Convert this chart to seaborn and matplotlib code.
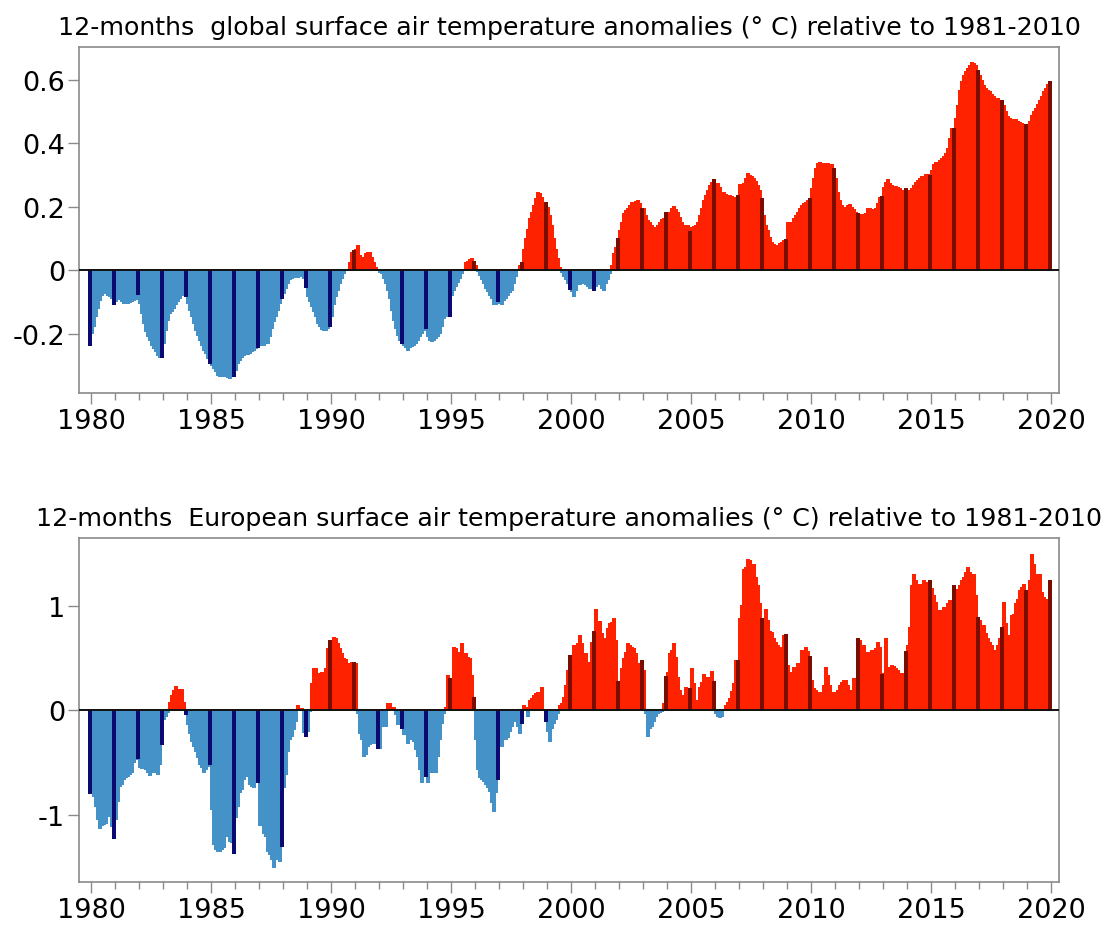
import numpy as np
import pandas as pd
import matplotlib
matplotlib.use("Agg")
import matplotlib.pyplot as plt
from matplotlib.ticker import MultipleLocator, FixedLocator
import seaborn as sns

# ---------------- data (12-month running means, one value per month, 1980.0 .. 2020.0) -------------
start_year = 1980

global_anom = [
    -0.236, -0.197, -0.176, -0.144, -0.118, -0.092, -0.076, -0.068, -0.070, -0.076, -0.081, -0.086,  # 1980
    -0.107, -0.097, -0.091, -0.090, -0.097, -0.102, -0.102, -0.104, -0.100, -0.097, -0.094, -0.091,  # 1981
    -0.074, -0.102, -0.134, -0.165, -0.192, -0.207, -0.220, -0.234, -0.244, -0.255, -0.265, -0.273,  # 1982
    -0.273, -0.228, -0.186, -0.155, -0.134, -0.128, -0.118, -0.107, -0.097, -0.086, -0.076, -0.065,  # 1983
    -0.079, -0.102, -0.123, -0.144, -0.165, -0.186, -0.202, -0.218, -0.234, -0.249, -0.260, -0.276,  # 1984
    -0.292, -0.297, -0.307, -0.318, -0.328, -0.332, -0.332, -0.332, -0.328, -0.334, -0.339, -0.332,  # 1985
    -0.332, -0.313, -0.292, -0.281, -0.271, -0.265, -0.262, -0.262, -0.260, -0.255, -0.249, -0.244,  # 1986
    -0.242, -0.234, -0.234, -0.234, -0.228, -0.228, -0.207, -0.181, -0.160, -0.144, -0.123, -0.104,  # 1987
    -0.086, -0.071, -0.055, -0.039, -0.028, -0.023, -0.021, -0.021, -0.020, -0.018, -0.018, -0.023,  # 1988
    -0.053, -0.081, -0.097, -0.113, -0.128, -0.144, -0.165, -0.176, -0.184, -0.189, -0.186, -0.181,  # 1989
    -0.174, -0.144, -0.107, -0.081, -0.060, -0.039, -0.023, -0.009, 0.000, 0.003, 0.024, 0.056,      # 1990
    0.061, 0.066, 0.077, 0.047, 0.040, 0.029, 0.051, 0.054, 0.056, 0.040, 0.024, 0.008,              # 1991
    0.000, -0.005, -0.009, -0.023, -0.039, -0.060, -0.086, -0.123, -0.155, -0.181, -0.202, -0.218,   # 1992
    -0.228, -0.234, -0.242, -0.249, -0.242, -0.239, -0.234, -0.228, -0.218, -0.207, -0.197, -0.189,  # 1993
    -0.181, -0.207, -0.218, -0.221, -0.218, -0.213, -0.207, -0.197, -0.176, -0.149, -0.144, -0.139,  # 1994
    -0.144, -0.076, -0.060, -0.049, -0.037, -0.023, -0.008, 0.000, 0.022, 0.027, 0.033, 0.035,       # 1995
    0.027, 0.014, -0.002, -0.013, -0.026, -0.039, -0.055, -0.065, -0.076, -0.086, -0.107, -0.107,    # 1996
    -0.097, -0.102, -0.107, -0.092, -0.086, -0.076, -0.068, -0.060, -0.039, -0.018, 0.000, 0.014,    # 1997
    0.024, 0.066, 0.098, 0.129, 0.161, 0.182, 0.203, 0.224, 0.243, 0.240, 0.229, 0.214,              # 1998
    0.211, 0.198, 0.172, 0.140, 0.098, 0.066, 0.035, 0.008, -0.005, -0.018, -0.028, -0.039,          # 1999
    -0.058, -0.065, -0.079, -0.060, -0.044, -0.044, -0.039, -0.039, -0.044, -0.049, -0.055, -0.049,  # 2000
    -0.062, -0.049, -0.044, -0.039, -0.055, -0.060, -0.039, -0.028, -0.007, 0.014, 0.051, 0.072,     # 2001
    0.100, 0.124, 0.151, 0.177, 0.187, 0.195, 0.203, 0.211, 0.212, 0.216, 0.219, 0.208,              # 2002
    0.195, 0.193, 0.172, 0.156, 0.151, 0.140, 0.129, 0.135, 0.140, 0.151, 0.158, 0.161,              # 2003
    0.182, 0.172, 0.182, 0.193, 0.201, 0.191, 0.182, 0.166, 0.151, 0.140, 0.135, 0.140,              # 2004
    0.121, 0.135, 0.137, 0.140, 0.151, 0.172, 0.193, 0.219, 0.235, 0.251, 0.266, 0.277,              # 2005
    0.284, 0.272, 0.272, 0.261, 0.245, 0.243, 0.239, 0.235, 0.235, 0.233, 0.229, 0.227,              # 2006
    0.235, 0.268, 0.268, 0.272, 0.289, 0.303, 0.298, 0.295, 0.287, 0.279, 0.266, 0.251,              # 2007
    0.226, 0.172, 0.140, 0.124, 0.103, 0.087, 0.079, 0.077, 0.077, 0.082, 0.087, 0.092,              # 2008
    0.096, 0.151, 0.145, 0.151, 0.161, 0.172, 0.182, 0.193, 0.203, 0.208, 0.214, 0.219,              # 2009
    0.224, 0.256, 0.287, 0.319, 0.335, 0.338, 0.335, 0.335, 0.335, 0.335, 0.333, 0.332,              # 2010
    0.319, 0.287, 0.245, 0.219, 0.203, 0.195, 0.198, 0.203, 0.205, 0.198, 0.191, 0.182,              # 2011
    0.179, 0.175, 0.174, 0.172, 0.177, 0.193, 0.195, 0.188, 0.189, 0.195, 0.208, 0.227,              # 2012
    0.232, 0.261, 0.277, 0.285, 0.272, 0.266, 0.264, 0.263, 0.261, 0.256, 0.251, 0.247,              # 2013
    0.258, 0.251, 0.248, 0.256, 0.266, 0.277, 0.282, 0.287, 0.293, 0.296, 0.300, 0.300,              # 2014
    0.298, 0.314, 0.332, 0.338, 0.340, 0.345, 0.351, 0.358, 0.366, 0.382, 0.414, 0.445,              # 2015
    0.447, 0.477, 0.519, 0.566, 0.593, 0.614, 0.624, 0.635, 0.645, 0.653, 0.651, 0.645,              # 2016
    0.629, 0.614, 0.598, 0.582, 0.572, 0.566, 0.561, 0.553, 0.545, 0.540, 0.540, 0.535,              # 2017
    0.535, 0.519, 0.498, 0.482, 0.477, 0.475, 0.474, 0.474, 0.468, 0.464, 0.461, 0.459,              # 2018
    0.457, 0.459, 0.468, 0.487, 0.498, 0.508, 0.521, 0.535, 0.548, 0.561, 0.572, 0.584,              # 2019
    0.593,                                                                                          # 2020
]

europe_anom = [
    -0.790, -0.746, -0.819, -0.914, -1.041, -1.121, -1.098, -1.089, -1.079, -1.009, -1.009, -1.105,  # 1980
    -1.222, -1.038, -0.863, -0.721, -0.705, -0.657, -0.641, -0.625, -0.610, -0.594, -0.498, -0.467,  # 1981
    -0.457, -0.546, -0.556, -0.546, -0.562, -0.594, -0.619, -0.594, -0.594, -0.562, -0.610, -0.514,  # 1982
    -0.324, -0.086, -0.054, -0.020, 0.073, 0.137, 0.184, 0.222, 0.194, 0.184, 0.194, 0.073,          # 1983
    -0.038, -0.133, -0.213, -0.292, -0.340, -0.387, -0.451, -0.514, -0.546, -0.594, -0.562, -0.530,  # 1984
    -0.514, -0.943, -1.276, -1.324, -1.340, -1.340, -1.324, -1.308, -1.197, -1.197, -1.244, -1.260,  # 1985
    -1.362, -1.022, -0.914, -0.784, -0.752, -0.657, -0.619, -0.625, -0.705, -0.721, -0.737, -0.625,  # 1986
    -0.683, -1.095, -0.851, -1.168, -1.200, -1.343, -1.375, -1.422, -1.498, -1.422, -1.390, -1.438,  # 1987
    -1.292, -0.737, -0.610, -0.387, -0.276, -0.244, -0.181, -0.102, 0.041, 0.003, 0.010, -0.210,     # 1988
    -0.244, -0.197, -0.006, 0.248, 0.390, 0.390, 0.327, 0.343, 0.359, 0.359, 0.390, 0.581,           # 1989
    0.660, 0.556, 0.692, 0.676, 0.629, 0.581, 0.533, 0.486, 0.479, 0.390, 0.438, 0.454,              # 1990
    0.448, 0.438, -0.022, -0.213, -0.276, -0.435, -0.419, -0.340, -0.324, -0.292, -0.308, -0.292,    # 1991
    -0.356, -0.356, -0.149, -0.133, -0.149, 0.057, 0.063, 0.010, 0.025, -0.038, -0.133, -0.102,      # 1992
    -0.165, -0.229, -0.181, -0.308, -0.260, -0.276, -0.292, -0.371, -0.435, -0.562, -0.689, -0.625,  # 1993
    -0.625, -0.689, -0.562, -0.594, -0.514, -0.594, -0.435, -0.276, -0.117, -0.022, 0.025, 0.327,    # 1994
    0.295, 0.210, 0.597, 0.581, 0.533, 0.549, 0.629, 0.533, 0.533, 0.502, 0.486, 0.327,              # 1995
    0.121, -0.276, -0.562, -0.641, -0.657, -0.673, -0.705, -0.737, -0.768, -0.879, -0.959, -0.784,   # 1996
    -0.657, -0.340, -0.340, -0.229, -0.276, -0.260, -0.197, -0.149, -0.102, -0.086, -0.149, -0.213,  # 1997
    -0.117, 0.041, 0.025, -0.054, 0.089, 0.105, 0.137, 0.152, 0.162, 0.105, 0.216, 0.000,            # 1998
    -0.102, -0.197, -0.292, -0.165, -0.117, -0.086, -0.022, 0.041, 0.057, 0.121, 0.232, 0.375,       # 1999
    0.517, 0.438, 0.613, 0.597, 0.629, 0.708, 0.629, 0.533, 0.533, 0.406, 0.454, 0.644,              # 2000
    0.746, 0.956, 0.803, 0.841, 0.730, 0.676, 0.644, 0.778, 0.819, 0.835, 0.873, 0.660,              # 2001
    0.270, 0.130, 0.390, 0.486, 0.549, 0.629, 0.613, 0.597, 0.581, 0.533, 0.359, 0.438,              # 2002
    0.470, 0.375, -0.022, -0.244, -0.165, -0.149, -0.102, -0.054, -0.022, -0.016, -0.006, 0.057,     # 2003
    0.321, 0.359, 0.533, 0.565, 0.629, 0.502, 0.311, 0.184, 0.105, 0.137, 0.216, 0.200,              # 2004
    0.206, 0.397, 0.248, 0.073, 0.089, 0.216, 0.263, 0.333, 0.311, 0.311, 0.295, 0.365,              # 2005
    0.270, -0.022, -0.054, -0.060, -0.054, 0.000, 0.041, 0.073, 0.105, 0.175, 0.248, 0.470,          # 2006
    0.470, 0.867, 0.994, 1.343, 1.359, 1.432, 1.422, 1.375, 1.390, 1.263, 1.184, 1.010,              # 2007
    0.867, 0.756, 0.956, 0.851, 0.746, 0.733, 0.676, 0.644, 0.613, 0.587, 0.597, 0.708,              # 2008
    0.714, 0.422, 0.359, 0.343, 0.406, 0.406, 0.438, 0.438, 0.565, 0.517, 0.597, 0.556,              # 2009
    0.511, 0.279, 0.200, 0.184, 0.168, 0.162, 0.168, 0.232, 0.406, 0.327, 0.232, 0.168,              # 2010
    0.000, 0.168, 0.184, 0.232, 0.263, 0.279, 0.279, 0.232, 0.089, 0.184, 0.295, 0.295,              # 2011
    0.676, 0.660, 0.517, 0.613, 0.533, 0.549, 0.549, 0.565, 0.533, 0.581, 0.644, 0.597,              # 2012
    0.333, 0.343, 0.683, 0.406, 0.406, 0.422, 0.416, 0.390, 0.375, 0.333, 0.343, 0.333,              # 2013
    0.556, 0.613, 0.787, 1.184, 1.295, 1.232, 1.152, 1.200, 1.168, 1.232, 1.216, 1.184,              # 2014
    1.232, 1.159, 1.089, 1.025, 0.946, 0.946, 0.930, 0.978, 0.978, 1.010, 1.041, 1.041,              # 2015
    1.190, 1.025, 1.152, 1.184, 1.232, 1.263, 1.311, 1.359, 1.311, 1.295, 1.295, 1.089,              # 2016
    0.883, 0.851, 0.724, 0.803, 0.724, 0.676, 0.644, 0.613, 0.565, 0.549, 0.613, 0.676,              # 2017
    0.787, 1.025, 0.819, 0.502, 0.708, 0.898, 0.914, 1.010, 1.057, 1.137, 1.168, 1.200,              # 2018
    1.137, 0.962, 1.232, 1.486, 1.390, 1.295, 1.168, 1.295, 1.121, 1.073, 1.041, 1.057,              # 2019
    1.232,                                                                                          # 2020
]

titles = [
    "12-months  global surface air temperature anomalies (\u00b0 C) relative to 1981-2010",
    "12-months  European surface air temperature anomalies (\u00b0 C) relative to 1981-2010",
]
ytick_values = [[-0.2, 0, 0.2, 0.4, 0.6], [-1, 0, 1]]
ytick_labels = [["-0.2", "0", "0.2", "0.4", "0.6"], ["-1", "0", "1"]]
xtick_years = [1980, 1985, 1990, 1995, 2000, 2005, 2010, 2015, 2020]

# ---------------- styling ----------------
sns.set_theme(style="ticks")
plt.rcParams["font.family"] = ["DejaVu Sans"]
plt.rcParams["axes.unicode_minus"] = False

LIGHT_BLUE = "#4592c8"
NAVY = "#0a0a70"
RED = "#ff2200"
DARK_RED = "#7a0c00"
palette = {"neg": LIGHT_BLUE, "pos": RED, "neg_dec": NAVY, "pos_dec": DARK_RED}
SPINE = "#8a8a8a"

fig = plt.figure(figsize=(11.03, 9.28), dpi=100)
axes = [fig.add_axes([0.0716, 0.5754, 0.8885, 0.3729]),
        fig.add_axes([0.0716, 0.0485, 0.8885, 0.3707])]
ylims = [(-0.386, 0.704), (-1.64, 1.645)]

for ax, series, title, yv, yl, ylim in zip(axes, [global_anom, europe_anom], titles,
                                            ytick_values, ytick_labels, ylims):
    vals = np.array(series)
    n = len(vals)
    t = start_year + np.arange(n) / 12.0 - 1.0 / 24.0
    is_dec = (np.arange(n) % 12) == 0
    cat = np.where(vals >= 0, "pos", "neg")
    cat = np.where(is_dec, np.char.add(cat.astype(str), "_dec"), cat)
    df = pd.DataFrame({"t": np.round(t, 5), "v": vals, "cat": cat})
    sns.barplot(data=df, x="t", y="v", hue="cat", palette=palette, native_scale=True,
                dodge=False, width=1.0, errorbar=None, legend=False, linewidth=0,
                saturation=1, ax=ax)
    # crisp (non-antialiased) bars so the monthly bars form a solid area;
    # year-end months narrower and drawn on top
    for p, dec in zip(sorted(ax.patches, key=lambda q: q.get_x()), is_dec):
        w = p.get_width()
        cx = p.get_x() + w / 2.0
        p.set_antialiased(False)
        p.set_edgecolor(p.get_facecolor())
        p.set_linewidth(0.3)
        if dec:
            p.set_width(w * 0.6)
            p.set_x(cx - w * 0.3)
            p.set_zorder(3)
        else:
            p.set_width(w * 1.15)
            p.set_x(cx - w * 0.575)
            p.set_zorder(2)
    ax.axhline(0, color="#111111", lw=1.4, zorder=5)

    ax.set_xlim(1979.5, 2020.33)
    ax.set_ylim(*ylim)
    ax.set_xlabel("")
    ax.set_ylabel("")
    ax.xaxis.set_major_locator(FixedLocator(xtick_years))
    ax.set_xticklabels([str(y) for y in xtick_years])
    ax.xaxis.set_minor_locator(MultipleLocator(1))
    ax.set_yticks(yv)
    ax.set_yticklabels(yl)
    ax.tick_params(axis="both", which="major", labelsize=19.5, colors=SPINE,
                   labelcolor="black", width=1, direction="out")
    ax.tick_params(axis="x", which="major", length=8, pad=3)
    ax.tick_params(axis="x", which="minor", length=5, width=1, color=SPINE)
    ax.tick_params(axis="y", which="major", length=8, pad=2)
    for sp in ax.spines.values():
        sp.set_visible(True)
        sp.set_color(SPINE)
        sp.set_linewidth(1.2)
    ax.set_title(title, fontsize=18.2, pad=9, color="black")
    ax.grid(False)

fig.savefig("out.png", dpi=100)
